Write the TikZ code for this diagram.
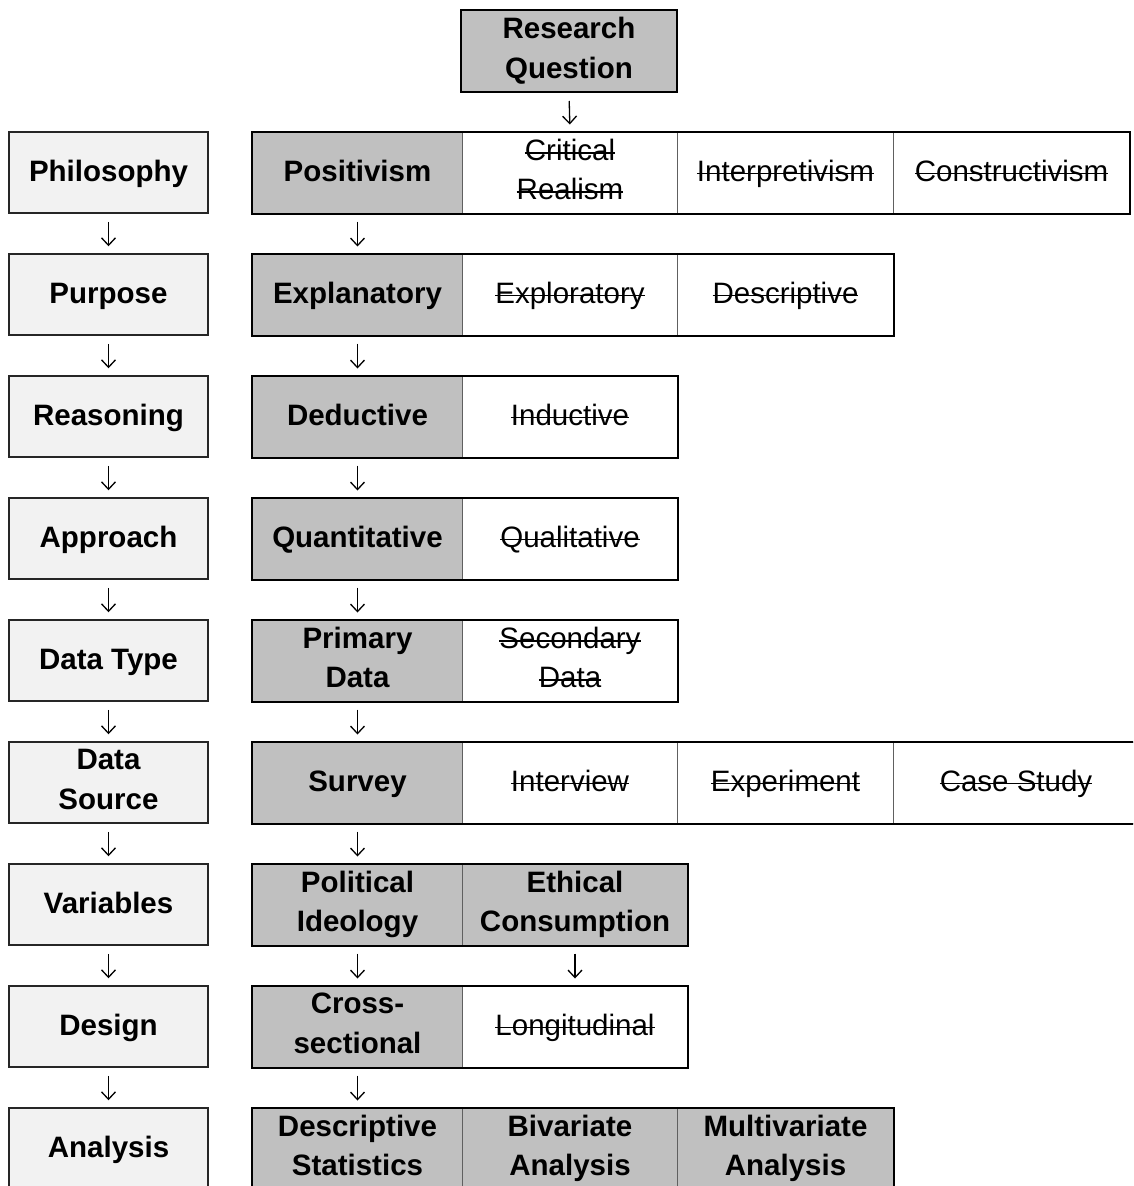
\documentclass[tikz,border=0pt]{standalone}
\usepackage{fontspec}
\setmainfont{Liberation Sans}
\newcommand{\strk}[1]{\begingroup\setbox0=\hbox{#1}\rlap{\rule[0.23em]{\wd0}{1.6pt}}\box0\endgroup}
\newcommand{\sx}{\rule[-0.21em]{0pt}{1.01em}}
\newcommand{\lnx}{\\\sx}
\usetikzlibrary{arrows.meta}
\definecolor{lightg}{HTML}{F2F2F2}
\definecolor{selg}{HTML}{C0C0C0}
\definecolor{divg}{HTML}{606060}
\tikzset{
  x=1pt, y=-1pt,
  base/.style={rectangle, inner sep=0pt, minimum height=81pt, align=center,
    font=\fontsize{29.5}{39.5}\selectfont, execute at begin node=\sx},
  lab/.style={base, draw=black!85, line width=1.5pt, fill=lightg,
    minimum width=199pt, font=\fontsize{29.5}{39.5}\selectfont\bfseries},
  sel/.style={base, anchor=west, draw=divg, line width=1pt, fill=selg,
    font=\fontsize{29.5}{39.5}\selectfont\bfseries},
  opt/.style={base, anchor=west, draw=divg, line width=1pt, fill=white},
  rowline/.style={draw=black, line width=2pt},
  arr/.style={line width=1.3pt, -{Straight Barb[length=7.5pt,width=14pt,line width=1.3pt]},
    shorten <=8pt, shorten >=7pt},
}
\begin{document}
\begin{tikzpicture}
\useasboundingbox (0,0) rectangle (1133,1186);
\clip (0,0) rectangle (1133,1186);

% Research question
\node[base, draw=black, line width=2pt, fill=selg, minimum width=216pt, minimum height=82pt,
  font=\fontsize{29.5}{39.5}\selectfont\bfseries] (rq) at (569,51) {Research\lnx Question};

% Left column
\node[lab] (l1) at (108.5,172.5) {Philosophy};
\node[lab] (l2) at (108.5,294.5) {Purpose};
\node[lab] (l3) at (108.5,416.5) {Reasoning};
\node[lab] (l4) at (108.5,538.5) {Approach};
\node[lab] (l5) at (108.5,660.5) {Data Type};
\node[lab] (l6) at (108.5,782.5) {Data\lnx Source};
\node[lab] (l7) at (108.5,904.5) {Variables};
\node[lab] (l8) at (108.5,1026.5) {Design};
\node[lab] (l9) at (108.5,1148.5) {Analysis};

% Row 1
\node[sel, minimum width=210pt] (a1) at (252,172.5) {Positivism};
\node[opt, minimum width=215pt] (a2) at (462,172.5) {\strk{Critical}\lnx\strk{Realism}};
\node[opt, minimum width=216pt] (a3) at (677,172.5) {\strk{Interpretivism}};
\node[opt, minimum width=236pt] (a4) at (893,172.5) {\strk{Constructivism}};
\draw[rowline] (a1.north west) rectangle (a4.south east);

% Row 2
\node[sel, minimum width=210pt] (b1) at (252,294.5) {Explanatory};
\node[opt, minimum width=215pt] (b2) at (462,294.5) {\strk{Exploratory}};
\node[opt, minimum width=216pt] (b3) at (677,294.5) {\strk{Descriptive}};
\draw[rowline] (b1.north west) rectangle (b3.south east);

% Row 3
\node[sel, minimum width=210pt] (c1) at (252,416.5) {Deductive};
\node[opt, minimum width=215pt] (c2) at (462,416.5) {\strk{Inductive}};
\draw[rowline] (c1.north west) rectangle (c2.south east);

% Row 4
\node[sel, minimum width=210pt] (d1) at (252,538.5) {Quantitative};
\node[opt, minimum width=215pt] (d2) at (462,538.5) {\strk{Qualitative}};
\draw[rowline] (d1.north west) rectangle (d2.south east);

% Row 5
\node[sel, minimum width=210pt] (e1) at (252,660.5) {Primary\lnx Data};
\node[opt, minimum width=215pt] (e2) at (462,660.5) {\strk{Secondary}\lnx\strk{Data}};
\draw[rowline] (e1.north west) rectangle (e2.south east);

% Row 6
\node[sel, minimum width=210pt] (f1) at (252,782.5) {Survey};
\node[opt, minimum width=215pt] (f2) at (462,782.5) {\strk{Interview}};
\node[opt, minimum width=216pt] (f3) at (677,782.5) {\strk{Experiment}};
\node[opt, minimum width=245pt] (f4) at (893,782.5) {\strk{Case Study}};
\draw[rowline] (f1.north west) rectangle (f4.south east);

% Row 7
\node[sel, minimum width=210pt] (g1) at (252,904.5) {Political\lnx Ideology};
\node[sel, minimum width=225pt] (g2) at (462,904.5) {Ethical\lnx Consumption};
\draw[rowline] (g1.north west) rectangle (g2.south east);

% Row 8
\node[sel, minimum width=210pt] (h1) at (252,1026.5) {Cross-\lnx sectional};
\node[opt, minimum width=225pt] (h2) at (462,1026.5) {\strk{Longitudinal}};
\draw[rowline] (h1.north west) rectangle (h2.south east);

% Row 9
\node[sel, minimum width=210pt] (i1) at (252,1148.5) {Descriptive\lnx Statistics};
\node[sel, minimum width=215pt] (i2) at (462,1148.5) {Bivariate\lnx Analysis};
\node[sel, minimum width=216pt] (i3) at (677,1148.5) {Multivariate\lnx Analysis};
\draw[rowline] (i1.north west) rectangle (i3.south east);

% Arrows
\draw[arr] (rq.south) -- (a2.north);
\foreach \u/\v in {l1/l2,l2/l3,l3/l4,l4/l5,l5/l6,l6/l7,l7/l8,l8/l9,
  a1/b1,b1/c1,c1/d1,d1/e1,e1/f1,f1/g1,g1/h1,h1/i1,g2/h2}
  \draw[arr] (\u.south) -- (\v.north);
\end{tikzpicture}
\end{document}
